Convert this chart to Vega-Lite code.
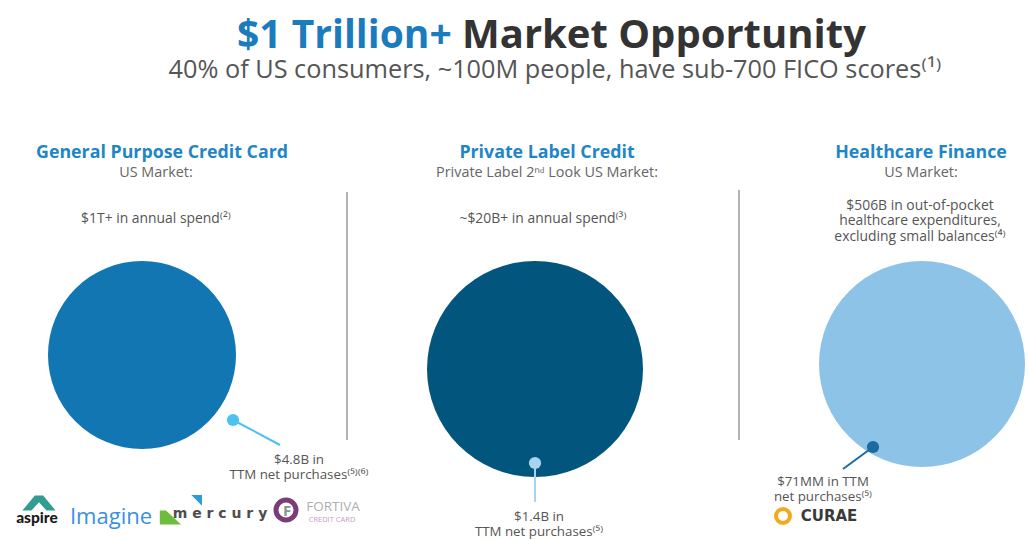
{
  "$schema": "https://vega.github.io/schema/vega-lite/v6.json",
  "width": 1029,
  "height": 540,
  "autosize": {"type": "fit", "contains": "padding"},
  "padding": 0,
  "background": "white",
  "config": {"view": {"stroke": null}},
  "datasets": {
    "circles": [
      {"segment": "General Purpose Credit Card", "x": 142, "y": 355, "area": 35344},
      {"segment": "Private Label Credit", "x": 535, "y": 369, "area": 46656},
      {"segment": "Healthcare Finance", "x": 922, "y": 364, "area": 42436}
    ],
    "dots": [
      {"market": "General Purpose Credit Card", "x": 233, "y": 420, "x2": 280, "y2": 445},
      {"market": "Private Label Credit", "x": 535, "y": 463, "x2": 535, "y2": 502},
      {"market": "Healthcare Finance", "x": 873, "y": 447, "x2": 843, "y2": 469}
    ],
    "separators": [
      {"x": 347, "y": 192, "y2": 440},
      {"x": 739, "y": 190, "y2": 440}
    ],
    "texts": [
      {"role": "title1", "text": "$1 Trillion+", "x": 237, "y": 48},
      {"role": "title2", "text": "Market Opportunity", "x": 462, "y": 48},
      {"role": "subtitle", "text": "40% of US consumers, ~100M people, have sub-700 FICO scores⁽¹⁾", "x": 555, "y": 78},
      {"role": "head", "text": "General Purpose Credit Card", "x": 162, "y": 158},
      {"role": "head", "text": "Private Label Credit", "x": 547, "y": 158},
      {"role": "head", "text": "Healthcare Finance", "x": 921, "y": 158},
      {"role": "sub", "text": "US Market:", "x": 156, "y": 177},
      {"role": "sub", "text": "Private Label 2ⁿᵈ Look US Market:", "x": 547, "y": 177},
      {"role": "sub", "text": "US Market:", "x": 921, "y": 177},
      {"role": "body", "text": "$1T+ in annual spend⁽²⁾", "x": 156, "y": 223},
      {"role": "body", "text": "~$20B+ in annual spend⁽³⁾", "x": 543, "y": 223},
      {"role": "body", "text": "$506B in out-of-pocket\nhealthcare expenditures,\nexcluding small balances⁽⁴⁾", "x": 920, "y": 209.5},
      {"role": "note", "text": "$4.8B in\nTTM net purchases⁽⁵⁾⁽⁶⁾", "x": 299, "y": 464},
      {"role": "note", "text": "$1.4B in\nTTM net purchases⁽⁵⁾", "x": 539, "y": 521},
      {"role": "note", "text": "$71MM in TTM\nnet purchases⁽⁵⁾", "x": 823, "y": 486}
    ],
    "logos": [
      {"brand": "aspire", "text": "aspire", "x": 37, "y": 523},
      {"brand": "imagine", "text": "Imagine", "x": 111, "y": 524},
      {"brand": "mercury", "text": "m e r c u r y", "x": 220, "y": 518},
      {"brand": "fortiva", "text": "FORTIVA", "x": 333, "y": 511},
      {"brand": "fortivacc", "text": "CREDIT CARD", "x": 332, "y": 522},
      {"brand": "fortivaF", "text": "F", "x": 287, "y": 516},
      {"brand": "curae", "text": "CURAE", "x": 829, "y": 521}
    ],
    "logoShapes": [
      {"brand": "aspire", "x": 39, "y": 503},
      {"brand": "mercury", "x": 171, "y": 516},
      {"brand": "mercuryAccent", "x": 198, "y": 499}
    ],
    "rings": [
      {"brand": "fortiva", "x": 286, "y": 510},
      {"brand": "curae", "x": 783, "y": 516}
    ]
  },
  "encoding": {
    "x": {"field": "x", "type": "quantitative", "scale": {"domain": [0, 1029], "nice": false, "zero": false}, "axis": null},
    "y": {"field": "y", "type": "quantitative", "scale": {"domain": [0, 540], "nice": false, "zero": false, "reverse": true}, "axis": null}
  },
  "resolve": {"scale": {"color": "independent", "size": "independent"}},
  "layer": [
    {
      "data": {"name": "separators"},
      "mark": {"type": "rule", "color": "#b3b3b3", "strokeWidth": 2},
      "encoding": {"y2": {"field": "y2"}}
    },
    {
      "data": {"name": "circles"},
      "mark": {"type": "point", "shape": "circle", "filled": true, "opacity": 1},
      "encoding": {
        "size": {"field": "area", "type": "quantitative", "scale": null, "legend": null},
        "color": {"field": "segment", "type": "nominal", "legend": null,
          "scale": {"domain": ["General Purpose Credit Card", "Private Label Credit", "Healthcare Finance"], "range": ["#1276b3", "#02557c", "#8dc3e6"]}}
      }
    },
    {
      "data": {"name": "dots"},
      "mark": {"type": "rule", "strokeWidth": 2},
      "encoding": {
        "x2": {"field": "x2"},
        "y2": {"field": "y2"},
        "stroke": {"field": "market", "type": "nominal", "legend": null,
          "scale": {"domain": ["General Purpose Credit Card", "Private Label Credit", "Healthcare Finance"], "range": ["#4cc2ee", "#a7d4ef", "#1a6aa3"]}}
      }
    },
    {
      "data": {"name": "dots"},
      "mark": {"type": "point", "shape": "circle", "filled": true, "opacity": 1},
      "encoding": {
        "size": {"field": "market", "type": "nominal", "legend": null,
          "scale": {"domain": ["General Purpose Credit Card", "Private Label Credit", "Healthcare Finance"], "range": [150, 150, 40]}},
        "fill": {"field": "market", "type": "nominal", "legend": null,
          "scale": {"domain": ["General Purpose Credit Card", "Private Label Credit", "Healthcare Finance"], "range": ["#4cc2ee", "#a7d4ef", "#1a6aa3"]}}
      }
    },
    {
      "data": {"name": "texts"},
      "transform": [{"filter": "datum.role === 'title1'"}],
      "mark": {"type": "text", "align": "left", "baseline": "alphabetic", "font": "Open Sans", "fontWeight": "bold", "fontSize": 39, "color": "#1b7cbd"},
      "encoding": {"text": {"field": "text"}}
    },
    {
      "data": {"name": "texts"},
      "transform": [{"filter": "datum.role === 'title2'"}],
      "mark": {"type": "text", "align": "left", "baseline": "alphabetic", "font": "Open Sans", "fontWeight": "bold", "fontSize": 40, "color": "#333333"},
      "encoding": {"text": {"field": "text"}}
    },
    {
      "data": {"name": "texts"},
      "transform": [{"filter": "datum.role === 'subtitle'"}],
      "mark": {"type": "text", "align": "center", "baseline": "alphabetic", "font": "Open Sans", "fontSize": 25.3, "color": "#555555"},
      "encoding": {"text": {"field": "text"}}
    },
    {
      "data": {"name": "texts"},
      "transform": [{"filter": "datum.role === 'head'"}],
      "mark": {"type": "text", "align": "center", "baseline": "alphabetic", "font": "Open Sans", "fontWeight": "bold", "fontSize": 17.8, "color": "#1f86c6"},
      "encoding": {"text": {"field": "text"}}
    },
    {
      "data": {"name": "texts"},
      "transform": [{"filter": "datum.role === 'sub'"}],
      "mark": {"type": "text", "align": "center", "baseline": "alphabetic", "font": "Open Sans", "fontSize": 14.4, "color": "#666666"},
      "encoding": {"text": {"field": "text"}}
    },
    {
      "data": {"name": "texts"},
      "transform": [{"filter": "datum.role === 'body'"}],
      "mark": {"type": "text", "align": "center", "baseline": "alphabetic", "font": "Open Sans", "fontSize": 13.9, "lineBreak": "\n", "lineHeight": 15.5, "color": "#555555"},
      "encoding": {"text": {"field": "text"}}
    },
    {
      "data": {"name": "texts"},
      "transform": [{"filter": "datum.role === 'note'"}],
      "mark": {"type": "text", "align": "center", "baseline": "alphabetic", "font": "Open Sans", "fontSize": 13.3, "lineBreak": "\n", "lineHeight": 15, "color": "#555555"},
      "encoding": {"text": {"field": "text"}}
    },
    {
      "data": {"name": "logoShapes"},
      "transform": [{"filter": "datum.brand === 'aspire'"}],
      "mark": {"type": "point", "filled": true, "opacity": 1, "color": "#2f9d8f", "size": 1100,
        "shape": "M-1,0.45L-0.25,-0.45L0.25,-0.45L1,0.45L0.45,0.45L0,-0.05L-0.45,0.45Z"}
    },
    {
      "data": {"name": "logoShapes"},
      "transform": [{"filter": "datum.brand === 'mercury'"}],
      "mark": {"type": "point", "filled": true, "opacity": 1, "color": "#6dbd3c", "size": 500,
        "shape": "M-1,-0.5L-0.45,-0.5L0.9,0.75L-1,0.75Z"}
    },
    {
      "data": {"name": "logoShapes"},
      "transform": [{"filter": "datum.brand === 'mercuryAccent'"}],
      "mark": {"type": "point", "filled": true, "opacity": 1, "color": "#2c9bd8", "size": 180,
        "shape": "M-1,-0.6L0.6,-0.6L0.6,1Z"}
    },
    {
      "data": {"name": "rings"},
      "transform": [{"filter": "datum.brand === 'fortiva'"}],
      "mark": {"type": "point", "shape": "circle", "filled": false, "opacity": 1, "color": "#7a3d78", "strokeWidth": 5, "size": 400}
    },
    {
      "data": {"name": "rings"},
      "transform": [{"filter": "datum.brand === 'curae'"}],
      "mark": {"type": "point", "shape": "circle", "filled": false, "opacity": 1, "color": "#f3a91c", "strokeWidth": 4, "size": 196}
    },
    {
      "data": {"name": "logos"},
      "transform": [{"filter": "datum.brand === 'aspire'"}],
      "mark": {"type": "text", "align": "center", "baseline": "alphabetic", "font": "Lato", "fontWeight": 900, "fontSize": 15.5, "color": "#1a1a1a"},
      "encoding": {"text": {"field": "text"}}
    },
    {
      "data": {"name": "logos"},
      "transform": [{"filter": "datum.brand === 'imagine'"}],
      "mark": {"type": "text", "align": "center", "baseline": "alphabetic", "font": "Open Sans", "fontSize": 22, "color": "#3a8fe3"},
      "encoding": {"text": {"field": "text"}}
    },
    {
      "data": {"name": "logos"},
      "transform": [{"filter": "datum.brand === 'mercury'"}],
      "mark": {"type": "text", "align": "center", "baseline": "alphabetic", "font": "DejaVu Sans", "fontWeight": "bold", "fontSize": 14, "color": "#4d4d4d"},
      "encoding": {"text": {"field": "text"}}
    },
    {
      "data": {"name": "logos"},
      "transform": [{"filter": "datum.brand === 'fortivaF'"}],
      "mark": {"type": "text", "align": "center", "baseline": "alphabetic", "font": "Open Sans", "fontWeight": "bold", "fontSize": 15, "color": "#8a9496"},
      "encoding": {"text": {"field": "text"}}
    },
    {
      "data": {"name": "logos"},
      "transform": [{"filter": "datum.brand === 'fortiva'"}],
      "mark": {"type": "text", "align": "center", "baseline": "alphabetic", "font": "Open Sans", "fontSize": 13.5, "color": "#aab0b2"},
      "encoding": {"text": {"field": "text"}}
    },
    {
      "data": {"name": "logos"},
      "transform": [{"filter": "datum.brand === 'fortivacc'"}],
      "mark": {"type": "text", "align": "center", "baseline": "alphabetic", "font": "Open Sans", "fontSize": 7.5, "color": "#c79bc6"},
      "encoding": {"text": {"field": "text"}}
    },
    {
      "data": {"name": "logos"},
      "transform": [{"filter": "datum.brand === 'curae'"}],
      "mark": {"type": "text", "align": "center", "baseline": "alphabetic", "font": "DejaVu Sans", "fontWeight": "bold", "fontSize": 15, "color": "#3a3a3a"},
      "encoding": {"text": {"field": "text"}}
    }
  ]
}
